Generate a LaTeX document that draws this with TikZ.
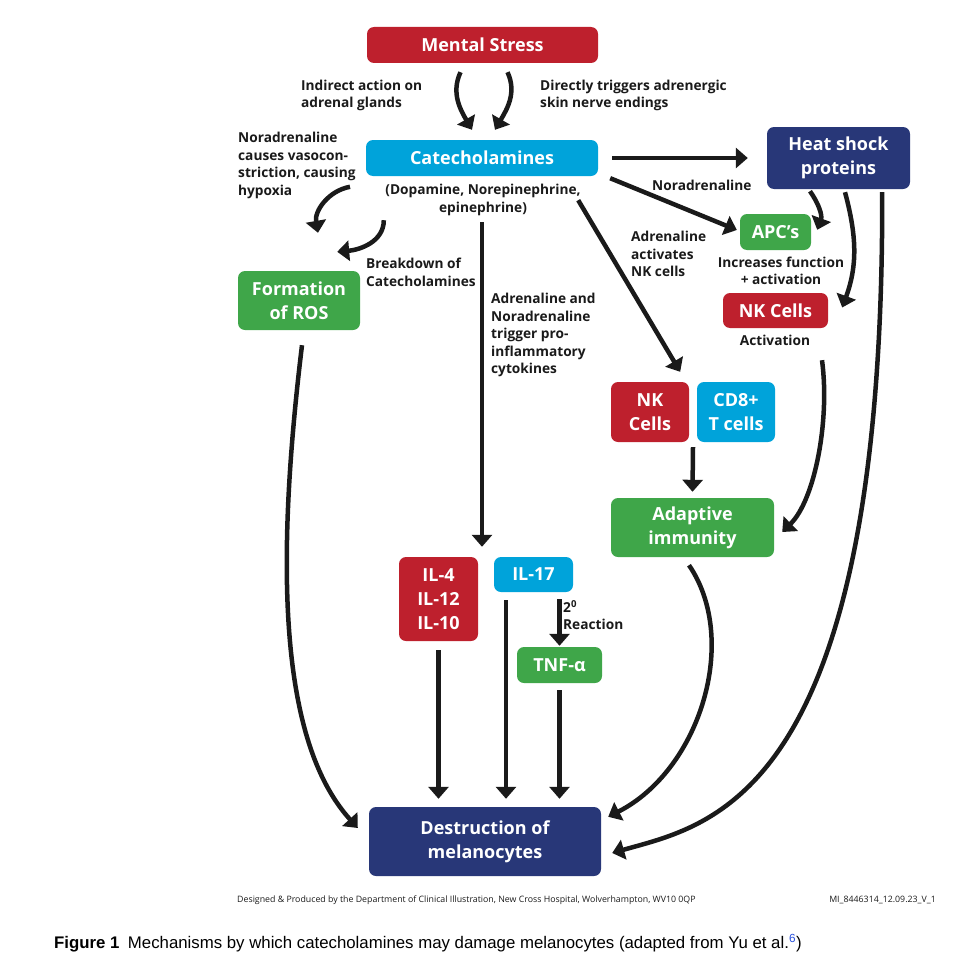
\documentclass[tikz,border=0pt]{standalone}
\usepackage{fontspec}
\setmainfont{Open Sans}
\newfontfamily\capfont{Liberation Sans}
\usetikzlibrary{arrows.meta,calc}
\definecolor{bred}{RGB}{190,32,45}
\definecolor{bcyan}{RGB}{0,163,218}
\definecolor{bnavy}{RGB}{40,55,120}
\definecolor{bgreen}{RGB}{63,166,73}
\definecolor{ink}{RGB}{26,26,26}
\definecolor{refblue}{RGB}{40,80,220}
\tikzset{
  box/.style={rounded corners=7pt, text=white, font=\bfseries\fontsize{18}{24}\selectfont, align=center, inner sep=0pt},
  lbl/.style={font=\bfseries\fontsize{13.7}{17.5}\selectfont, text=ink, inner sep=0pt},
  arr/.style={line width=4.5pt, draw=ink, -{Triangle[length=12pt,width=20pt]}},
}
\begin{document}
\begin{tikzpicture}[x=1pt,y=-1pt]
\path[use as bounding box] (0,0) rectangle (972,974);
% boxes
\node[box, fill=bred,   minimum width=231pt, minimum height=36pt] (ms)   at (482.5,45)   {Mental Stress};
\node[box, fill=bcyan,  minimum width=232pt, minimum height=36pt] (cat)  at (482,158)    {Catecholamines};
\node[box, fill=bnavy,  minimum width=143pt, minimum height=62pt] (hsp)  at (838.5,158)  {Heat shock\\proteins};
\node[box, fill=bgreen, minimum width=71pt,  minimum height=36pt] (apc)  at (775.5,232)  {APC's};
\node[box, fill=bred,   minimum width=105pt, minimum height=35pt] (nkr)  at (775.5,310.5){NK Cells};
\node[box, fill=bgreen, minimum width=122pt, minimum height=59pt] (ros)  at (299,300.5)  {Formation\\of ROS};
\node[box, fill=bred,   minimum width=78pt,  minimum height=60pt] (nkm)  at (650,412)    {NK\\Cells};
\node[box, fill=bcyan,  minimum width=78pt,  minimum height=60pt] (cd8)  at (736,412)    {CD8+\\T cells};
\node[box, fill=bgreen, minimum width=163pt, minimum height=59pt] (adapt) at (692.5,527.5){Adaptive\\immunity};
\node[box, fill=bred,   minimum width=79pt,  minimum height=84pt] (il4)  at (438.5,599)  {IL-4\\IL-12\\IL-10};
\node[box, fill=bcyan,  minimum width=79pt,  minimum height=35pt] (il17) at (533.5,574.5){IL-17};
\node[box, fill=bgreen, minimum width=85pt,  minimum height=36pt] (tnf)  at (559.5,665)  {TNF-α};
\node[box, fill=bnavy,  minimum width=232pt, minimum height=69pt] (dest) at (485,841.5)  {Destruction of\\melanocytes};
% labels
\node[lbl, anchor=west, align=left] (l1) at (301,95.5) {Indirect action on\\adrenal glands};
\node[lbl, anchor=west, align=left] (l2) at (540,95.5) {Directly triggers adrenergic\\skin nerve endings};
\node[lbl, anchor=west, align=left] (l3) at (238,165.5) {Noradrenaline\\causes vasocon-\\striction, causing\\hypoxia};
\node[lbl, align=center] (l4) at (483,200) {(Dopamine, Norepinephrine,\\epinephrine)};
\node[lbl, anchor=west] (l5) at (652,185) {Noradrenaline};
\node[lbl, anchor=west, align=left] (l6) at (631,254) {Adrenaline\\activates\\NK cells};
\node[lbl, align=center] (l7) at (781,271) {Increases function\\+ activation};
\node[lbl] (l8) at (775,340) {Activation};
\node[lbl, anchor=west, align=left] (l9) at (366,272.5) {Breakdown of\\Catecholamines};
\node[lbl, anchor=west, align=left] (l10) at (491,335) {Adrenaline and\\Noradrenaline\\trigger pro-\\inflammatory\\cytokines};
\node[lbl, anchor=west, align=left] (l11) at (563,615) {2\textsuperscript{0}\\Reaction};
% footer and caption
\node[anchor=west, inner sep=0pt, font=\fontsize{8.8}{10}\selectfont, text=ink] (ft1) at (237,900) {Designed \& Produced by the Department of Clinical Illustration, New Cross Hospital, Wolverhampton, WV10 0QP};
\node[anchor=east, inner sep=0pt, font=\fontsize{8.8}{10}\selectfont, text=ink] (ft2) at (936,900) {MI\_8446314\_12.09.23\_V\_1};
\node[anchor=west, inner sep=0pt, font=\capfont\fontsize{16.8}{20}\selectfont, text=black] (cap) at (54,943) {\textbf{Figure 1}\enspace Mechanisms by which catecholamines may damage melanocytes (adapted from Yu et al.\textsuperscript{\textcolor{refblue}{6}})};
% connectors
\draw[arr] ([xshift=-22pt,yshift=-9pt]ms.south) to[out=-115,in=120] ([xshift=-10pt,yshift=10pt]cat.north);
\draw[arr] ([xshift=25pt,yshift=-9pt]ms.south) to[out=-65,in=60] ([xshift=13pt,yshift=10pt]cat.north);
\draw[arr] ([xshift=14pt]cat.east) -- ([xshift=-19pt]hsp.west);
\draw[arr] ([xshift=12pt,yshift=-2pt]cat.south east) -- ([xshift=-3pt,yshift=2pt]apc.west);
\draw[arr] ([xshift=-20pt,yshift=-24pt]cat.south east) -- ([xshift=-9pt,yshift=10pt]nkm.north east);
\draw[arr] ([yshift=-46pt]cat.south) -- ([yshift=10pt]cat.south |- il4.north);
\draw[arr] ([xshift=51pt,yshift=84pt]ros.north) to[out=190,in=100] ([xshift=19pt,yshift=38pt]ros.north);
\draw[arr] ([xshift=18pt,yshift=-44pt]cat.south west) to[out=-90,in=5] ([xshift=-23pt,yshift=19pt]ros.north east);
\draw[arr] ([xshift=-28.5pt,yshift=-2pt]hsp.south) to[out=-55,in=70] ([xshift=6pt,yshift=-16pt]apc.north east);
\draw[arr] ([xshift=6.5pt,yshift=-3pt]hsp.south) to[out=-75,in=70] ([xshift=14pt,yshift=3pt]nkr.east);
\draw[arr] ([xshift=-28pt,yshift=-3pt]hsp.south east) .. controls (884,800) and (710,825) .. ([xshift=11pt,yshift=-11.5pt]dest.east);
\draw[arr] ([xshift=-3.5pt,yshift=-8pt]adapt.south) .. controls (740,640) and (700,770) .. ([xshift=7pt,yshift=-10pt]dest.north east);
\draw[arr] ([xshift=3pt,yshift=-15pt]ros.south) .. controls (276,560) and (278,740) .. ([xshift=-11pt,yshift=13.5pt]dest.west);
\draw[arr] ([xshift=46.5pt,yshift=-32pt]nkr.south) .. controls (830,420) and (815,500) .. ([xshift=8pt,yshift=-4.5pt]adapt.east);
\draw[arr] ([yshift=-5pt]$(nkm.south east)!0.5!(cd8.south west)$) -- ([yshift=6pt]adapt.north);
\draw[arr] ([yshift=-9pt]il4.south) -- ([yshift=8pt]il4.south |- dest.north);
\draw[arr] ([xshift=-27.5pt,yshift=-8pt]il17.south) -- ([xshift=-27.5pt,yshift=8pt]il17.south |- dest.north);
\draw[arr] ([yshift=-7pt]tnf.north |- il17.south) -- ([yshift=1pt]tnf.north);
\draw[arr] ([yshift=-7pt]tnf.south) -- ([yshift=8pt]tnf.south |- dest.north);
\end{tikzpicture}
\end{document}
